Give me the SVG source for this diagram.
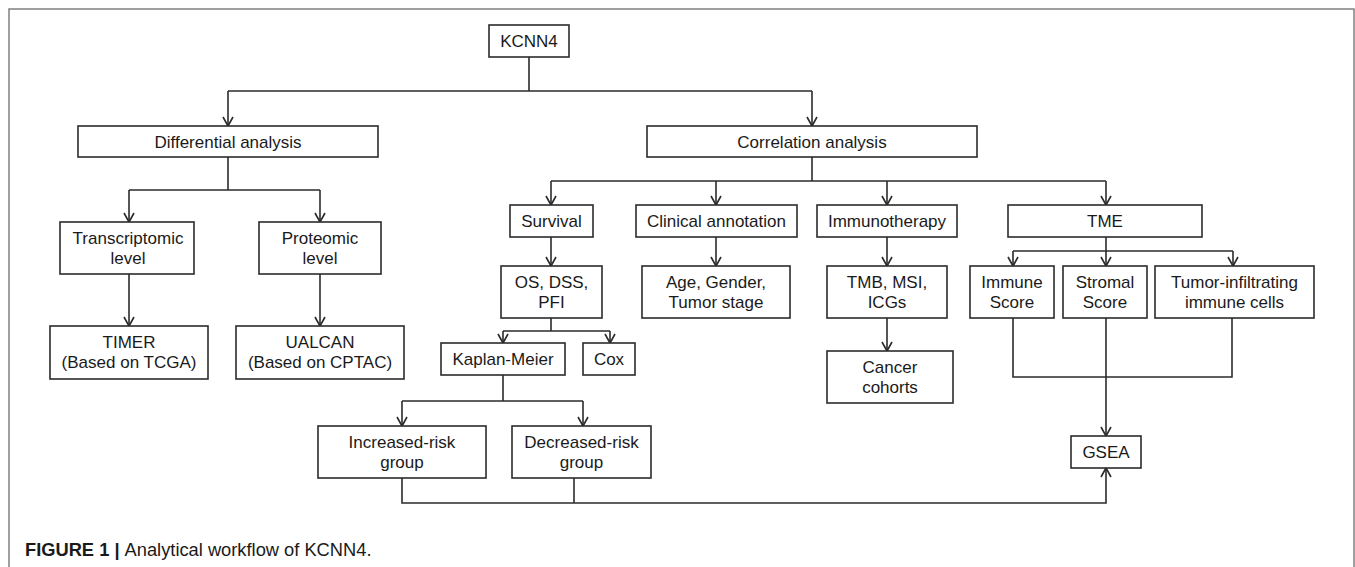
<svg xmlns="http://www.w3.org/2000/svg" width="1355" height="567" viewBox="0 0 1355 567">
<style>
.b{fill:#fff;stroke:#2b2b2b;stroke-width:1.6}
.t{font-family:"Liberation Sans",Arial,sans-serif;font-size:17px;fill:#1a1a1a;text-anchor:middle}
.c{fill:none;stroke:#2b2b2b;stroke-width:1.6}
.ca{font-family:"Liberation Sans",Arial,sans-serif;font-size:18.3px;fill:#1a1a1a}
</style>
<defs>
<marker id="arr" viewBox="-11 -7 13 14" refX="0" refY="0" markerWidth="13" markerHeight="14" markerUnits="userSpaceOnUse" orient="auto">
<path d="M-9,-5 L0,0 L-9,5" fill="none" stroke="#2b2b2b" stroke-width="1.6"/>
</marker>
</defs>
<rect width="1355" height="567" fill="#fff"/>
<path d="M9,567 V9 H1354 V567" fill="none" stroke="#808080" stroke-width="1.5"/>
<g id="connectors">
<path class="c" d="M529,57 V91 M228,91 H812"/>
<path class="c" d="M228,91 V126" marker-end="url(#arr)"/>
<path class="c" d="M812,91 V126" marker-end="url(#arr)"/>
<path class="c" d="M228,157 V190 M129,190 H320"/>
<path class="c" d="M129,190 V222" marker-end="url(#arr)"/>
<path class="c" d="M320,190 V222" marker-end="url(#arr)"/>
<path class="c" d="M129,274 V326" marker-end="url(#arr)"/>
<path class="c" d="M320,274 V326" marker-end="url(#arr)"/>
<path class="c" d="M812,157 V181 M551,181 H1106"/>
<path class="c" d="M551,181 V205" marker-end="url(#arr)"/>
<path class="c" d="M716,181 V205" marker-end="url(#arr)"/>
<path class="c" d="M887,181 V205" marker-end="url(#arr)"/>
<path class="c" d="M1106,181 V205" marker-end="url(#arr)"/>
<path class="c" d="M551,237 V266" marker-end="url(#arr)"/>
<path class="c" d="M716,237 V266" marker-end="url(#arr)"/>
<path class="c" d="M887,237 V266" marker-end="url(#arr)"/>
<path class="c" d="M551,318 V331 M503,331 H610"/>
<path class="c" d="M503,331 V343" marker-end="url(#arr)"/>
<path class="c" d="M610,331 V343" marker-end="url(#arr)"/>
<path class="c" d="M887,318 V351" marker-end="url(#arr)"/>
<path class="c" d="M503,375 V401 M402,401 H583"/>
<path class="c" d="M402,401 V426" marker-end="url(#arr)"/>
<path class="c" d="M583,401 V426" marker-end="url(#arr)"/>
<path class="c" d="M1106,237 V251" stroke-width="2.4"/>
<path class="c" d="M1013,251 H1233"/>
<path class="c" d="M1013,251 V266" marker-end="url(#arr)"/>
<path class="c" d="M1106,251 V266" marker-end="url(#arr)"/>
<path class="c" d="M1233,251 V266" marker-end="url(#arr)"/>
<path class="c" d="M1013,318 V377 H1232 V318"/>
<path class="c" d="M1106,318 V436" stroke-width="2.2" marker-end="url(#arr)"/>
<path class="c" d="M402,478 V503 H1106 V468" marker-end="url(#arr)"/>
<path class="c" d="M574,478 V503"/>
</g>
<g id="kcnn4"><rect class="b" x="489" y="25" width="80" height="32"/><text class="t" x="529" y="47">KCNN4</text></g>
<g id="differential"><rect class="b" x="78" y="126" width="300" height="31"/><text class="t" x="228" y="147.5">Differential analysis</text></g>
<g id="correlation"><rect class="b" x="647" y="126" width="330" height="31"/><text class="t" x="812" y="147.5">Correlation analysis</text></g>
<g id="transcriptomic"><rect class="b" x="60" y="222" width="134" height="52"/><text class="t" x="128" y="244">Transcriptomic</text><text class="t" x="128" y="264">level</text></g>
<g id="proteomic"><rect class="b" x="259" y="222" width="122" height="52"/><text class="t" x="320" y="244">Proteomic</text><text class="t" x="320" y="264">level</text></g>
<g id="timer"><rect class="b" x="50" y="326" width="158" height="53"/><text class="t" x="129" y="348">TIMER</text><text class="t" x="129" y="368">(Based on TCGA)</text></g>
<g id="ualcan"><rect class="b" x="236" y="326" width="168" height="53"/><text class="t" x="320" y="348">UALCAN</text><text class="t" x="320" y="368">(Based on CPTAC)</text></g>
<g id="survival"><rect class="b" x="510" y="205" width="83" height="32"/><text class="t" x="551.5" y="227">Survival</text></g>
<g id="clinical"><rect class="b" x="636" y="205" width="161" height="32"/><text class="t" x="716.5" y="227">Clinical annotation</text></g>
<g id="immunotherapy"><rect class="b" x="817" y="205" width="140" height="32"/><text class="t" x="887" y="227">Immunotherapy</text></g>
<g id="tme"><rect class="b" x="1008" y="205" width="194" height="32"/><text class="t" x="1105" y="227">TME</text></g>
<g id="os"><rect class="b" x="501" y="266" width="101" height="52"/><text class="t" x="551.5" y="288">OS, DSS,</text><text class="t" x="551.5" y="308">PFI</text></g>
<g id="age"><rect class="b" x="642" y="266" width="148" height="52"/><text class="t" x="716" y="288">Age, Gender,</text><text class="t" x="716" y="308">Tumor stage</text></g>
<g id="tmb"><rect class="b" x="827" y="266" width="120" height="52"/><text class="t" x="887" y="288">TMB, MSI,</text><text class="t" x="887" y="308">ICGs</text></g>
<g id="kaplan"><rect class="b" x="441" y="343" width="124" height="32"/><text class="t" x="503" y="365">Kaplan-Meier</text></g>
<g id="cox"><rect class="b" x="583" y="343" width="52" height="32"/><text class="t" x="609" y="365">Cox</text></g>
<g id="cancer"><rect class="b" x="827" y="351" width="126" height="52"/><text class="t" x="890" y="373">Cancer</text><text class="t" x="890" y="393">cohorts</text></g>
<g id="immune"><rect class="b" x="970" y="266" width="84" height="52"/><text class="t" x="1012" y="288">Immune</text><text class="t" x="1012" y="308">Score</text></g>
<g id="stromal"><rect class="b" x="1063" y="266" width="84" height="52"/><text class="t" x="1105" y="288">Stromal</text><text class="t" x="1105" y="308">Score</text></g>
<g id="tumor"><rect class="b" x="1155" y="266" width="159" height="52"/><text class="t" x="1234.5" y="288">Tumor-infiltrating</text><text class="t" x="1234.5" y="308">immune cells</text></g>
<g id="increased"><rect class="b" x="318" y="426" width="168" height="52"/><text class="t" x="402" y="448">Increased-risk</text><text class="t" x="402" y="468">group</text></g>
<g id="decreased"><rect class="b" x="512" y="426" width="139" height="52"/><text class="t" x="581.5" y="448">Decreased-risk</text><text class="t" x="581.5" y="468">group</text></g>
<g id="gsea"><rect class="b" x="1071" y="436" width="70" height="32"/><text class="t" x="1106" y="458">GSEA</text></g>
<text class="ca" x="25" y="556"><tspan font-weight="bold">FIGURE 1 | </tspan>Analytical workflow of KCNN4.</text>
</svg>
